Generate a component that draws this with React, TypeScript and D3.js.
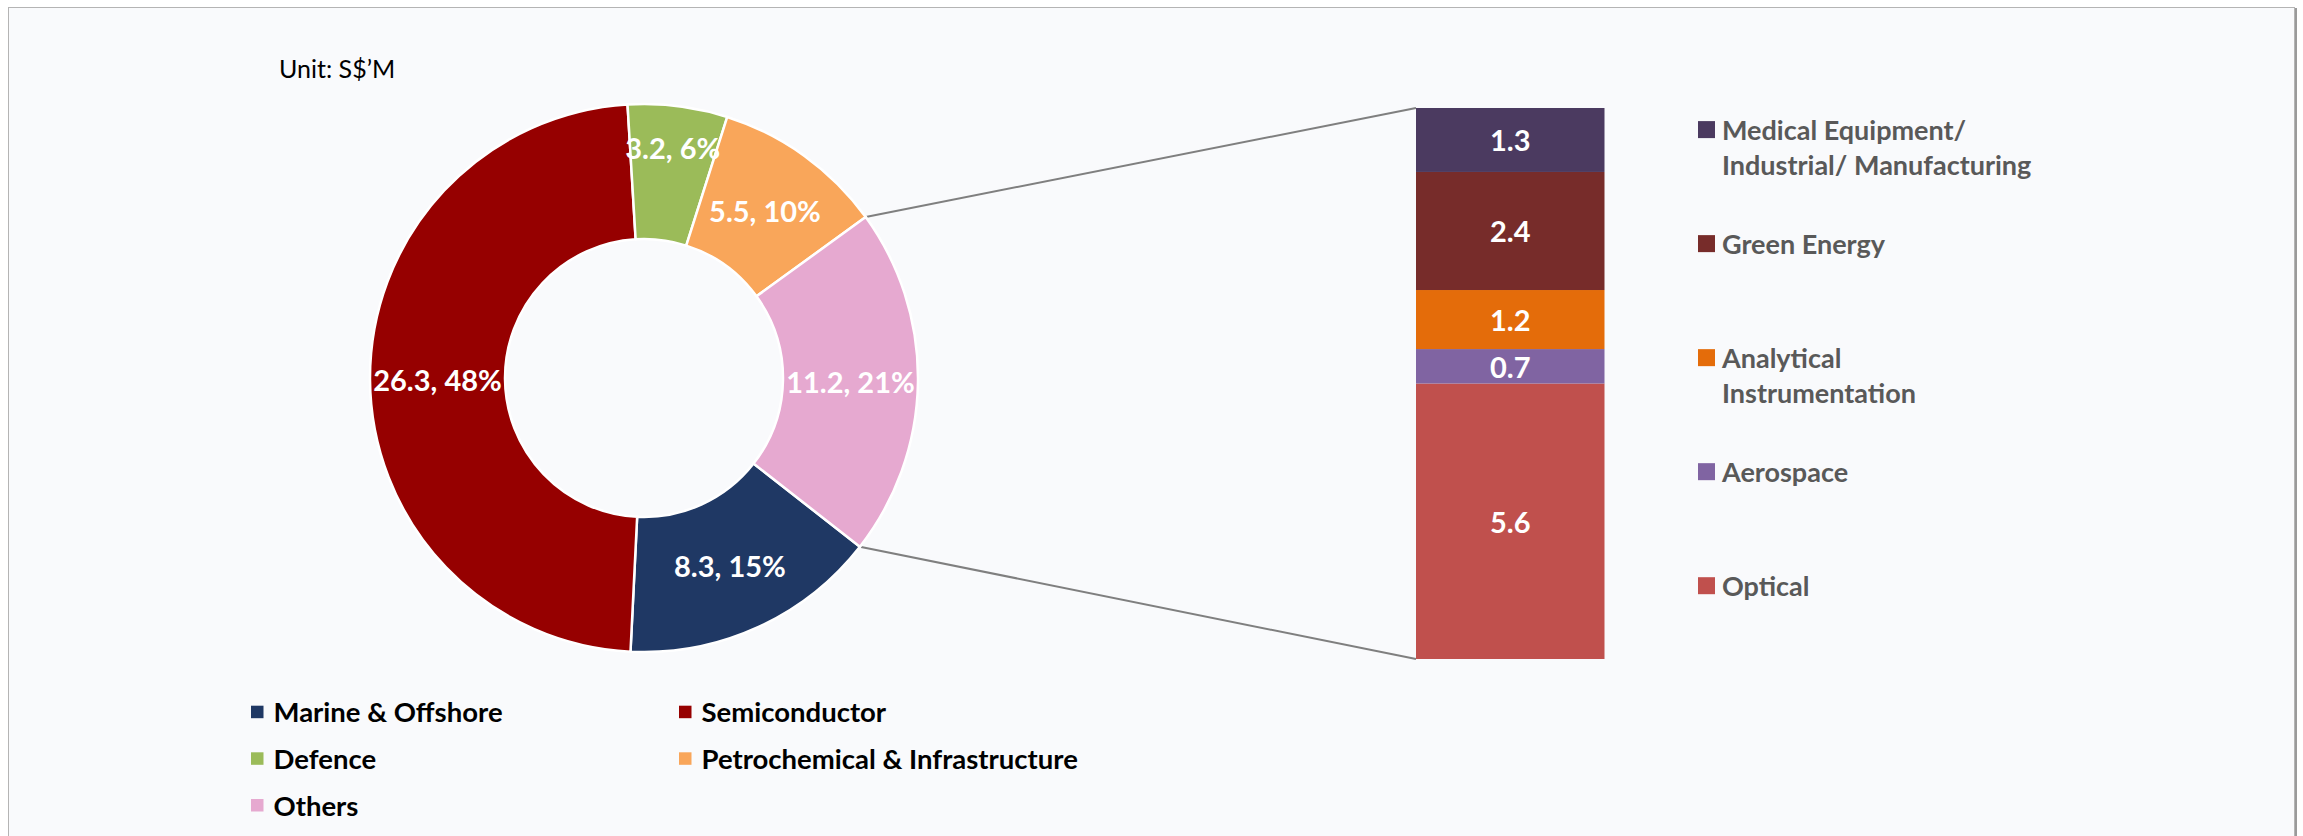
import React from "react";
import * as d3 from "d3";

// ---- Data ----
const donutCategories = ["Marine & Offshore", "Semiconductor", "Defence", "Petrochemical & Infrastructure", "Others"];
const donutValues = [8.3, 26.3, 3.2, 5.5, 11.2];
const donutColors = ["#1F3864", "#960000", "#9BBB59", "#F9A65A", "#E6A9D0"];

// stacked bar: bottom -> top
const barCategories = ["Optical", "Aerospace", "Analytical Instrumentation", "Green Energy", "Medical Equipment/ Industrial/ Manufacturing"];
const barValues = [5.6, 0.7, 1.2, 2.4, 1.3];
const barColors = ["#C0504D", "#8064A2", "#E46C0A", "#772C2A", "#4B3A60"];
const barLegendLines = [["Optical"], ["Aerospace"], ["Analytical", "Instrumentation"], ["Green Energy"], ["Medical Equipment/", "Industrial/ Manufacturing"]];

const unitLabel = "Unit: S$\u2019M";

const W = 2303;
const H = 836;
const FONT = "Lato, 'Open Sans', sans-serif";

export default function App() {
  const cx = 644, cy = 378, rOuter = 274, rInner = 139;
  const start = (128 * Math.PI) / 180;
  const pie = d3.pie<number>().sort(null).value((d) => d).startAngle(start).endAngle(start + 2 * Math.PI);
  const arcs = pie(donutValues);
  const arc = d3.arc<d3.PieArcDatum<number>>().innerRadius(rInner).outerRadius(rOuter);
  const total = d3.sum(donutValues);

  const labelPos = (a: d3.PieArcDatum<number>) => {
    const frac = a.value / total;
    const r = frac < 0.08 ? rOuter - 42 : (rInner + rOuter) / 2;
    const m = (a.startAngle + a.endAngle) / 2;
    return [Math.sin(m) * r, -Math.cos(m) * r];
  };

  // Bar
  const barX0 = 1416, barX1 = 1604.5;
  const barTotal = d3.sum(barValues);
  const y = d3.scaleLinear().domain([0, barTotal]).range([659, 108]);
  const cum = d3.cumsum(barValues);
  const segs = barValues.map((v, i) => ({ v, i, y0: cum[i] - v, y1: cum[i] }));

  // Connector anchors: Others slice edges
  const othersIdx = donutCategories.indexOf("Others");
  const oa = arcs[othersIdx];
  const pTop = [cx + Math.sin(oa.startAngle) * rOuter, cy - Math.cos(oa.startAngle) * rOuter];
  const pBot = [cx + Math.sin(oa.endAngle) * rOuter, cy - Math.cos(oa.endAngle) * rOuter];

  // Right legend (top->bottom = reverse of stack)
  const rightLegendOrder = d3.range(barValues.length).reverse();
  const legY = d3.scaleLinear().domain([0, 4]).range([129.6, 585.7]);

  // bottom legend
  const colX = [251, 679];
  const rowY = [711.7, 758.3, 805];

  return (
    <svg width={W} height={H} style={{ position: "absolute", left: 0, top: 0, display: "block" }} fontFamily={FONT}>
      <rect x={0} y={0} width={W} height={H} fill="#ffffff" />
      <rect x={8.5} y={7.5} width={2286} height={H + 20} fill="#F9FAFC" stroke="#B4B4B4" strokeWidth={1} />
      <line x1={2296} y1={8} x2={2296} y2={H} stroke="#9a9a9a" strokeWidth={2} />

      <text x={279} y={68} fontSize={25} fill="#000" dominantBaseline="central">{unitLabel}</text>

      {/* connectors */}
      <line x1={pTop[0]} y1={pTop[1]} x2={barX0} y2={y(barTotal)} stroke="#7F7F7F" strokeWidth={2} />
      <line x1={pBot[0]} y1={pBot[1]} x2={barX0} y2={y(0)} stroke="#7F7F7F" strokeWidth={2} />

      {/* donut */}
      <g transform={`translate(${cx},${cy})`}>
        {arcs.map((a, i) => (
          <path key={i} d={arc(a) as string} fill={donutColors[i]} stroke="#ffffff" strokeWidth={2.5} />
        ))}
        {arcs.map((a, i) => {
          const [lx, ly] = labelPos(a);
          return (
            <text key={"l" + i} x={lx} y={ly} textAnchor="middle" dominantBaseline="central" fill="#fff" fontWeight="bold" fontSize={29}>
              {`${a.value}, ${Math.round((a.value / total) * 100)}%`}
            </text>
          );
        })}
      </g>

      {/* stacked bar */}
      {segs.map((s) => (
        <rect key={s.i} x={barX0} y={y(s.y1)} width={barX1 - barX0} height={y(s.y0) - y(s.y1)} fill={barColors[s.i]} />
      ))}
      {segs.map((s) => (
        <text key={"t" + s.i} x={(barX0 + barX1) / 2} y={(y(s.y0) + y(s.y1)) / 2} textAnchor="middle" dominantBaseline="central" fill="#fff" fontWeight="bold" fontSize={29}>
          {s.v.toFixed(1)}
        </text>
      ))}

      {/* right legend */}
      {rightLegendOrder.map((idx, k) => (
        <g key={"rl" + idx}>
          <rect x={1698} y={legY(k) - 8.5} width={17} height={17} fill={barColors[idx]} />
          {barLegendLines[idx].map((ln, j) => (
            <text key={j} x={1722} y={legY(k) + j * 35} dominantBaseline="central" fill="#595959" fontWeight="bold" fontSize={27}>
              {ln}
            </text>
          ))}
        </g>
      ))}

      {/* bottom legend */}
      {donutCategories.map((c, i) => {
        const col = i % 2;
        const row = Math.floor(i / 2);
        return (
          <g key={"bl" + i}>
            <rect x={colX[col]} y={rowY[row] - 6} width={12.5} height={12.5} fill={donutColors[i]} />
            <text x={colX[col] + 22.5} y={rowY[row]} dominantBaseline="central" fill="#000" fontWeight="bold" fontSize={27.5}>
              {c}
            </text>
          </g>
        );
      })}
    </svg>
  );
}
